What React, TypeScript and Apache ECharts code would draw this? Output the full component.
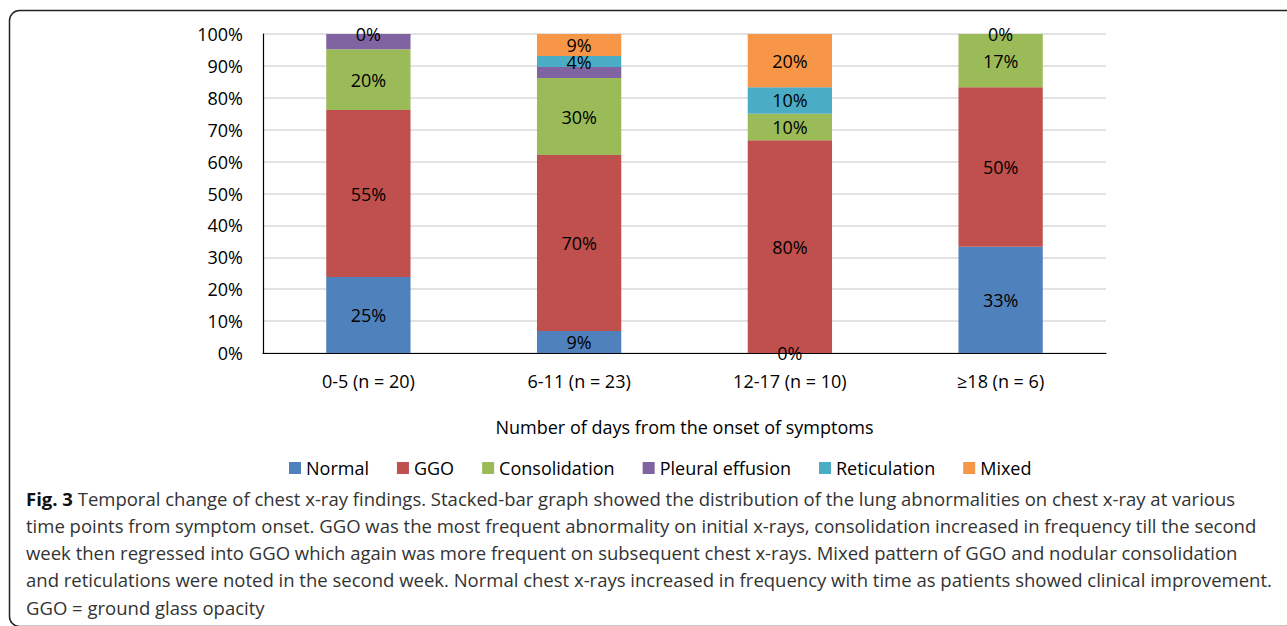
import React, { useEffect, useRef } from "react";
import * as echarts from "echarts";

const categories = ["0-5 (n = 20)", "6-11 (n = 23)", "12-17 (n = 10)", "≥18 (n = 6)"];
const seriesNames = ["Normal", "GGO", "Consolidation", "Pleural effusion", "Reticulation", "Mixed"];
const colors = ["#4F81BD", "#C0504D", "#9BBB59", "#8064A2", "#4BACC6", "#F79646"];

// patient counts per finding and time window (bars are drawn as 100% stacked)
const normalCounts = [5, 2, 0, 2];
const ggoCounts = [11, 16, 8, 3];
const consolidationCounts = [4, 7, 1, 1];
const pleuralCounts = [1, 1, 0, 0];
const reticulationCounts = [0, 1, 1, 0];
const mixedCounts = [0, 2, 2, 0];

// data-label texts as printed on the figure ('' = no label)
const normalLabels = ["25%", "9%", "0%", "33%"];
const ggoLabels = ["55%", "70%", "80%", "50%"];
const consolidationLabels = ["20%", "30%", "10%", "17%"];
const pleuralLabels = ["", "", "", ""];
const reticulationLabels = ["", "4%", "10%", ""];
const mixedLabels = ["0%", "9%", "20%", "0%"];

const yTicks = [0, 10, 20, 30, 40, 50, 60, 70, 80, 90, 100];

const captionLines = [
  "{b|Fig. 3} Temporal change of chest x-ray findings. Stacked-bar graph showed the distribution of the lung abnormalities on chest x-ray at various",
  "time points from symptom onset. GGO was the most frequent abnormality on initial x-rays, consolidation increased in frequency till the second",
  "week then regressed into GGO which again was more frequent on subsequent chest x-rays. Mixed pattern of GGO and nodular consolidation",
  "and reticulations were noted in the second week. Normal chest x-rays increased in frequency with time as patients showed clinical improvement.",
  "GGO = ground glass opacity",
];

const FONT = "'Open Sans', 'Noto Sans', sans-serif";

export default function App() {
  const ref = useRef<HTMLDivElement>(null);
  useEffect(() => {
    document.body.style.margin = "0";
    if (!ref.current) return;
    const chart = echarts.init(ref.current, null, { renderer: "svg" });
    const counts = [normalCounts, ggoCounts, consolidationCounts, pleuralCounts, reticulationCounts, mixedCounts];
    const labels = [normalLabels, ggoLabels, consolidationLabels, pleuralLabels, reticulationLabels, mixedLabels];
    const totals = categories.map((_, i) => counts.reduce((s, arr) => s + arr[i], 0));

    const series = seriesNames.map((name, si) => ({
      name,
      type: "bar",
      stack: "total",
      barWidth: "40%",
      itemStyle: { color: colors[si] },
      data: counts[si].map((c, i) => (c / totals[i]) * 100),
      label: {
        show: true,
        position: "inside",
        color: "#000",
        fontFamily: FONT,
        fontSize: 18,
        formatter: (p: any) => labels[si][p.dataIndex],
      },
    }));

    chart.setOption({
      animation: false,
      color: colors,
      textStyle: { fontFamily: FONT },
      grid: { left: 263, right: 181, top: 34, bottom: 273 },
      xAxis: {
        type: "category",
        data: categories,
        axisLine: { show: true, lineStyle: { color: "#000", width: 1.2 } },
        axisTick: { show: false },
        axisLabel: { color: "#000", fontSize: 18, fontFamily: FONT, margin: 19 },
        name: "Number of days from the onset of symptoms",
        nameLocation: "middle",
        nameGap: 65,
        nameTextStyle: { color: "#000", fontSize: 18, fontFamily: FONT },
      },
      yAxis: {
        type: "value",
        min: yTicks[0],
        max: yTicks[yTicks.length - 1],
        interval: 10,
        axisLine: { show: true, lineStyle: { color: "#000", width: 1.2 } },
        axisTick: { show: false },
        axisLabel: { color: "#000", fontSize: 18, fontFamily: FONT, margin: 20, formatter: "{value}%" },
        splitLine: { lineStyle: { color: "#D9D9D9", width: 1.5 } },
      },
      legend: {
        left: 284,
        top: 454,
        icon: "rect",
        itemWidth: 12,
        itemHeight: 12,
        itemGap: 28,
        textStyle: { color: "#000", fontSize: 18, fontFamily: FONT },
        data: seriesNames,
      },
      graphic: [
        {
          type: "rect",
          shape: { x: 9.5, y: 10.5, width: 1320, height: 616, r: 10 },
          style: { fill: "none", stroke: "#222", lineWidth: 1.5 },
          silent: true,
        },
        ...captionLines.map((line, i) => ({
          type: "text",
          x: 26,
          y: 498 + i * 27.3,
          style: {
            text: line,
            fill: "#333",
            font: `18.5px ${FONT}`,
            verticalAlign: "middle",
            rich: { b: { fontWeight: "bold", fill: "#111", fontSize: 18.5, fontFamily: FONT } },
          },
        })),
      ],
      series,
    });
    return () => chart.dispose();
  }, []);
  return <div ref={ref} style={{ position: "absolute", left: 0, top: 0, width: 1287, height: 626 }} />;
}
